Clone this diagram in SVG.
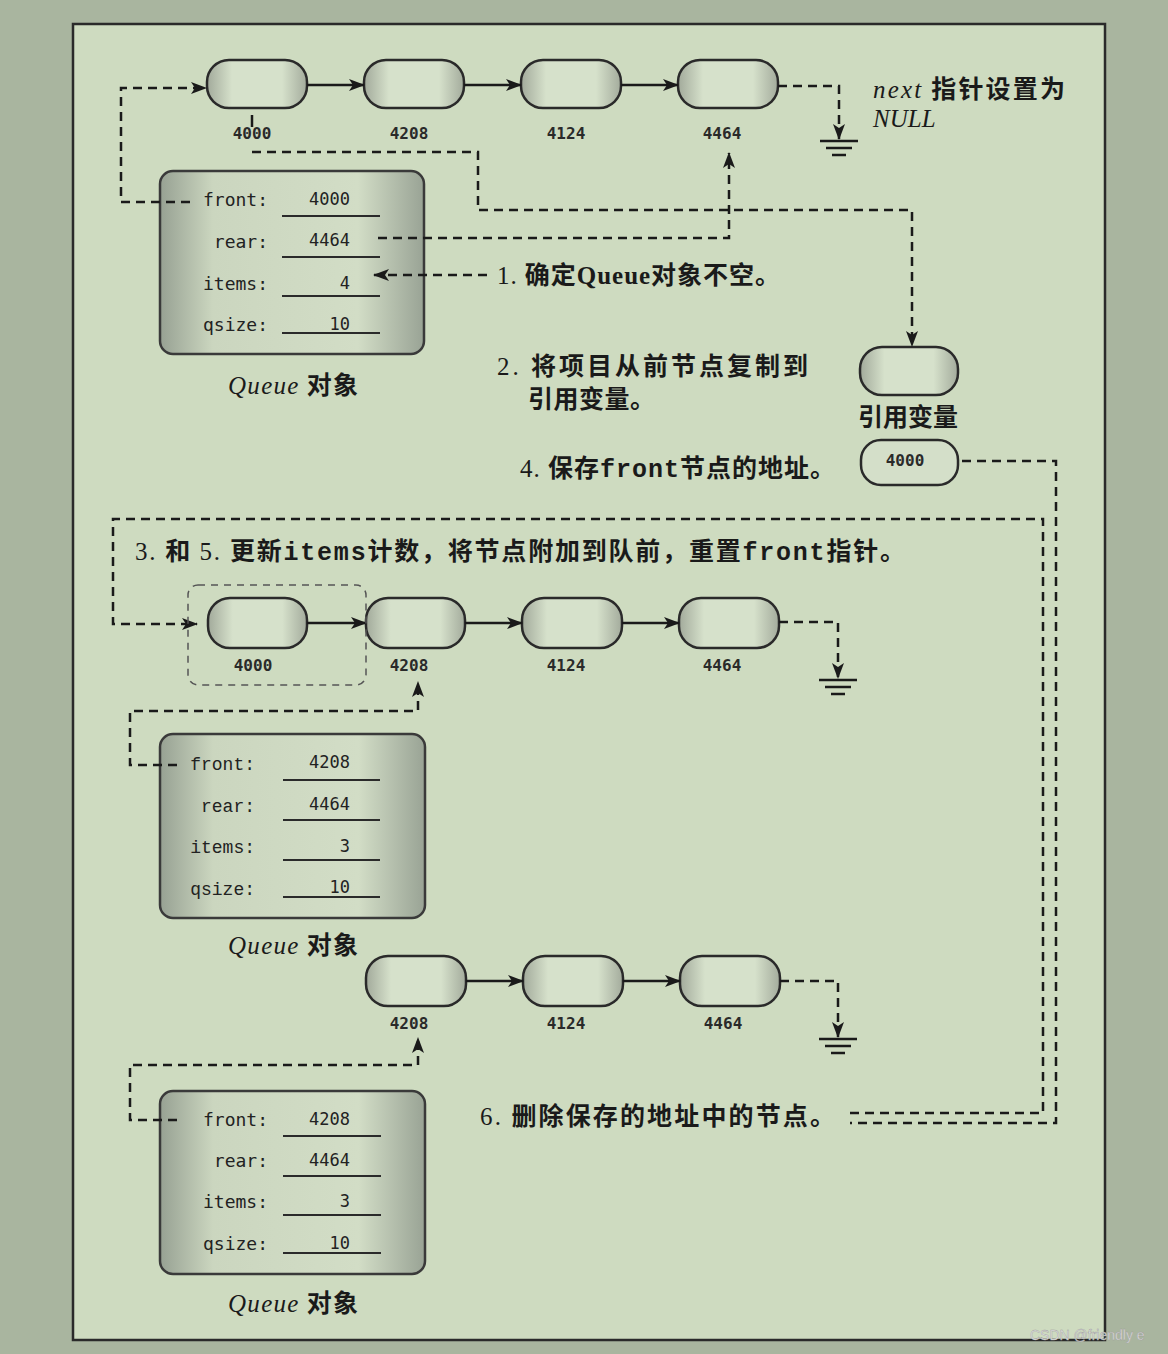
<svg xmlns="http://www.w3.org/2000/svg" width="1168" height="1354" viewBox="0 0 1168 1354">
<defs>
<linearGradient id="gNode" x1="0" y1="0" x2="1" y2="0">
<stop offset="0" stop-color="#a2aa9b"/>
<stop offset="0.25" stop-color="#d6e1cb"/>
<stop offset="0.75" stop-color="#d6e1cb"/>
<stop offset="1" stop-color="#a3ab9c"/>
</linearGradient>
<linearGradient id="gBox" x1="0" y1="0" x2="1" y2="0">
<stop offset="0" stop-color="#97a193"/>
<stop offset="0.2" stop-color="#cbd6bf"/>
<stop offset="0.75" stop-color="#d2ddc6"/>
<stop offset="1" stop-color="#99a395"/>
</linearGradient>
<marker id="ah" viewBox="0 0 16 12" refX="15" refY="6" markerWidth="16" markerHeight="12" markerUnits="userSpaceOnUse" orient="auto">
<path d="M0,0 L16,6 L0,12 L4,6 z" fill="#1a1a1a"/>
</marker>
<style>
.node{fill:url(#gNode);stroke:#2a2a2a;stroke-width:2.5}
.box{fill:url(#gBox);stroke:#3a3a3a;stroke-width:2.5}
.solid{stroke:#1a1a1a;stroke-width:2.5;fill:none}
.dash{stroke:#1a1a1a;stroke-width:2.5;fill:none;stroke-dasharray:9 6}
.thin{stroke:#555;stroke-width:1.5;fill:none;stroke-dasharray:7 6}
.gnd{stroke:#1a1a1a;stroke-width:2.5}
.ul{stroke:#2a2a2a;stroke-width:2}
.addr{font-family:"DejaVu Sans Mono","Liberation Mono",monospace;font-size:16px;font-weight:700;fill:#2a2a2a;text-anchor:middle}
.lab{font-family:"DejaVu Sans Mono","Liberation Mono",monospace;font-size:18px;fill:#222;text-anchor:end}
.lab2{font-family:"Liberation Mono",monospace;font-size:18px;fill:#222;text-anchor:end}
.val{font-family:"DejaVu Sans Mono","Liberation Mono",monospace;font-size:17px;fill:#222;text-anchor:end}
.cap{font-family:"Noto Sans CJK SC",sans-serif;font-size:25px;font-weight:700;fill:#1a1a1a}
.num{font-family:"Liberation Serif",serif;font-weight:400}
.ser{font-family:"Liberation Serif",serif;font-weight:700}
.it{font-family:"Liberation Serif",serif;font-style:italic;font-weight:400}
.mono{font-family:"Liberation Mono",monospace;font-weight:700}
</style>
</defs>
<rect x="0" y="0" width="1168" height="1354" fill="#a9b59f"/>
<rect x="73" y="24" width="1032" height="1316" fill="#cedbc0" stroke="#2a2a2a" stroke-width="2.5"/>

<!-- top linked list -->
<g id="top-4000"><rect class="node" x="207" y="60" width="100" height="48" rx="22"/><text class="addr" x="252" y="139">4000</text></g>
<g id="top-4208"><rect class="node" x="364" y="60" width="100" height="48" rx="22"/><text class="addr" x="409" y="139">4208</text></g>
<g id="top-4124"><rect class="node" x="521" y="60" width="100" height="48" rx="22"/><text class="addr" x="566" y="139">4124</text></g>
<g id="top-4464"><rect class="node" x="678" y="60" width="100" height="48" rx="22"/><text class="addr" x="722" y="139">4464</text></g>
<g id="null-note"><text class="cap" x="873" y="98" textLength="192" lengthAdjust="spacing"><tspan class="it">next</tspan> 指针设置为</text><text class="cap" x="873" y="127"><tspan class="it">NULL</tspan></text></g>

<!-- queue 1 -->
<g id="queue1">
<rect class="box" x="160" y="171" width="264" height="183" rx="13"/>
<text class="lab" x="268" y="206">front:</text><text class="val" x="350" y="205">4000</text><line class="ul" x1="282" y1="216" x2="380" y2="216"/>
<text class="lab" x="268" y="248">rear:</text><text class="val" x="350" y="246">4464</text><line class="ul" x1="282" y1="257" x2="380" y2="257"/>
<text class="lab" x="268" y="290">items:</text><text class="val" x="350" y="289">4</text><line class="ul" x1="282" y1="296" x2="380" y2="296"/>
<text class="lab" x="268" y="331">qsize:</text><text class="val" x="350" y="330">10</text><line class="ul" x1="282" y1="333" x2="380" y2="333"/>
<text class="cap" x="228" y="394" textLength="130" lengthAdjust="spacing"><tspan class="it">Queue</tspan> 对象</text>
</g>

<text id="step1" class="cap" x="497" y="284" textLength="283" lengthAdjust="spacing"><tspan class="num">1. </tspan>确定<tspan class="ser">Queue</tspan>对象不空。</text>
<g id="step2"><text class="cap" x="497" y="375" font-size="24" textLength="311" lengthAdjust="spacing"><tspan class="num">2. </tspan>将项目从前节点复制到</text><text class="cap" x="528" y="408" font-size="24" textLength="127" lengthAdjust="spacing">引用变量。</text></g>

<g id="refvar"><rect class="node" x="860" y="347" width="98" height="48" rx="22"/><text class="cap" x="908" y="426" text-anchor="middle">引用变量</text></g>
<g id="saved"><rect x="861" y="440" width="97" height="45" rx="20" fill="#d4dfc9" stroke="#2a2a2a" stroke-width="2.5"/><text class="addr" x="905" y="466">4000</text></g>
<text id="step4" class="cap" x="520" y="477" textLength="315" lengthAdjust="spacing"><tspan class="num">4. </tspan>保存<tspan class="mono">front</tspan>节点的地址。</text>

<text id="step35" class="cap" x="135" y="560" textLength="770" lengthAdjust="spacing"><tspan class="num">3. </tspan>和 <tspan class="num">5. </tspan>更新<tspan class="mono">items</tspan>计数，将节点附加到队前，重置<tspan class="mono">front</tspan>指针。</text>

<!-- middle list -->
<g id="mid-4000"><rect class="node" x="208" y="598" width="99" height="50" rx="22"/><text class="addr" x="253" y="671">4000</text></g>
<g id="mid-4208"><rect class="node" x="366" y="598" width="99" height="50" rx="22"/><text class="addr" x="409" y="671">4208</text></g>
<g id="mid-4124"><rect class="node" x="522" y="598" width="100" height="50" rx="22"/><text class="addr" x="566" y="671">4124</text></g>
<g id="mid-4464"><rect class="node" x="679" y="598" width="100" height="50" rx="22"/><text class="addr" x="722" y="671">4464</text></g>

<!-- queue 2 -->
<g id="queue2">
<rect class="box" x="160" y="734" width="265" height="184" rx="13"/>
<text class="lab2" x="255" y="770">front:</text><text class="val" x="350" y="768">4208</text><line class="ul" x1="283" y1="780" x2="380" y2="780"/>
<text class="lab2" x="255" y="812">rear:</text><text class="val" x="350" y="810">4464</text><line class="ul" x1="283" y1="820" x2="380" y2="820"/>
<text class="lab2" x="255" y="853">items:</text><text class="val" x="350" y="852">3</text><line class="ul" x1="283" y1="860" x2="380" y2="860"/>
<text class="lab2" x="255" y="895">qsize:</text><text class="val" x="350" y="893">10</text><line class="ul" x1="283" y1="897" x2="380" y2="897"/>
<text class="cap" x="228" y="954" textLength="130" lengthAdjust="spacing"><tspan class="it">Queue</tspan> 对象</text>
</g>

<!-- bottom list -->
<g id="bot-4208"><rect class="node" x="366" y="956" width="100" height="50" rx="22"/><text class="addr" x="409" y="1029">4208</text></g>
<g id="bot-4124"><rect class="node" x="523" y="956" width="100" height="50" rx="22"/><text class="addr" x="566" y="1029">4124</text></g>
<g id="bot-4464"><rect class="node" x="680" y="956" width="100" height="50" rx="22"/><text class="addr" x="723" y="1029">4464</text></g>

<!-- queue 3 -->
<g id="queue3">
<rect class="box" x="160" y="1091" width="265" height="183" rx="13"/>
<text class="lab" x="268" y="1126">front:</text><text class="val" x="350" y="1125">4208</text><line class="ul" x1="283" y1="1136" x2="381" y2="1136"/>
<text class="lab" x="268" y="1167">rear:</text><text class="val" x="350" y="1166">4464</text><line class="ul" x1="283" y1="1176" x2="381" y2="1176"/>
<text class="lab" x="268" y="1208">items:</text><text class="val" x="350" y="1207">3</text><line class="ul" x1="283" y1="1215" x2="381" y2="1215"/>
<text class="lab" x="268" y="1250">qsize:</text><text class="val" x="350" y="1249">10</text><line class="ul" x1="283" y1="1253" x2="381" y2="1253"/>
<text class="cap" x="228" y="1312" textLength="130" lengthAdjust="spacing"><tspan class="it">Queue</tspan> 对象</text>
</g>

<text id="step6" class="cap" x="480" y="1125" textLength="355" lengthAdjust="spacing"><tspan class="num">6. </tspan>删除保存的地址中的节点。</text>

<g id="connectors">
<!-- solid next links -->
<line class="solid" x1="307" y1="85" x2="364" y2="85" marker-end="url(#ah)"/>
<line class="solid" x1="464" y1="85" x2="521" y2="85" marker-end="url(#ah)"/>
<line class="solid" x1="621" y1="85" x2="678" y2="85" marker-end="url(#ah)"/>
<line class="solid" x1="307" y1="623" x2="366" y2="623" marker-end="url(#ah)"/>
<line class="solid" x1="465" y1="623" x2="522" y2="623" marker-end="url(#ah)"/>
<line class="solid" x1="622" y1="623" x2="679" y2="623" marker-end="url(#ah)"/>
<line class="solid" x1="466" y1="981" x2="523" y2="981" marker-end="url(#ah)"/>
<line class="solid" x1="623" y1="981" x2="680" y2="981" marker-end="url(#ah)"/>
<!-- null pointers -->
<path class="dash" d="M778,86 H839 V139" marker-end="url(#ah)"/>
<line class="gnd" x1="820" y1="141" x2="858" y2="141"/><line class="gnd" x1="826" y1="148" x2="852" y2="148"/><line class="gnd" x1="832" y1="155" x2="846" y2="155"/>
<path class="dash" d="M779,622 H838 V678" marker-end="url(#ah)"/>
<line class="gnd" x1="819" y1="680" x2="857" y2="680"/><line class="gnd" x1="825" y1="687" x2="851" y2="687"/><line class="gnd" x1="831" y1="694" x2="845" y2="694"/>
<path class="dash" d="M780,981 H838 V1037" marker-end="url(#ah)"/>
<line class="gnd" x1="819" y1="1039" x2="857" y2="1039"/><line class="gnd" x1="825" y1="1046" x2="851" y2="1046"/><line class="gnd" x1="831" y1="1053" x2="845" y2="1053"/>
<!-- queue 1 pointers -->
<path class="dash" d="M190,202 H121 V88 H206" marker-end="url(#ah)"/>
<line class="solid" x1="252" y1="115" x2="252" y2="127" stroke-width="1.5"/>
<path class="dash" d="M252,152 H478 V210 H912 V346" marker-end="url(#ah)"/>
<path class="dash" d="M378,238 H729 V153" marker-end="url(#ah)"/>
<path class="dash" d="M487,275 H374" marker-end="url(#ah)"/>
<!-- saved address / step 3&5 / step 6 -->
<path class="dash" d="M962,461 H1056 V1123 H850"/>
<path class="dash" d="M850,1113 H1043 V519 H113 V624 H197" marker-end="url(#ah)"/>
<rect class="thin" x="188" y="585" width="178" height="100" rx="10"/>
<!-- queue 2 / 3 front pointers -->
<path class="dash" d="M177,765 H130 V711 H418 V682" marker-end="url(#ah)"/>
<path class="dash" d="M177,1120 H130 V1065 H418 V1038" marker-end="url(#ah)"/>
</g>

<text x="1030" y="1340" font-family="Liberation Sans, sans-serif" font-size="14" fill="#e4e4e4" stroke="#9a9a9a" stroke-width="0.4">CSDN @friendly e</text>
</svg>
